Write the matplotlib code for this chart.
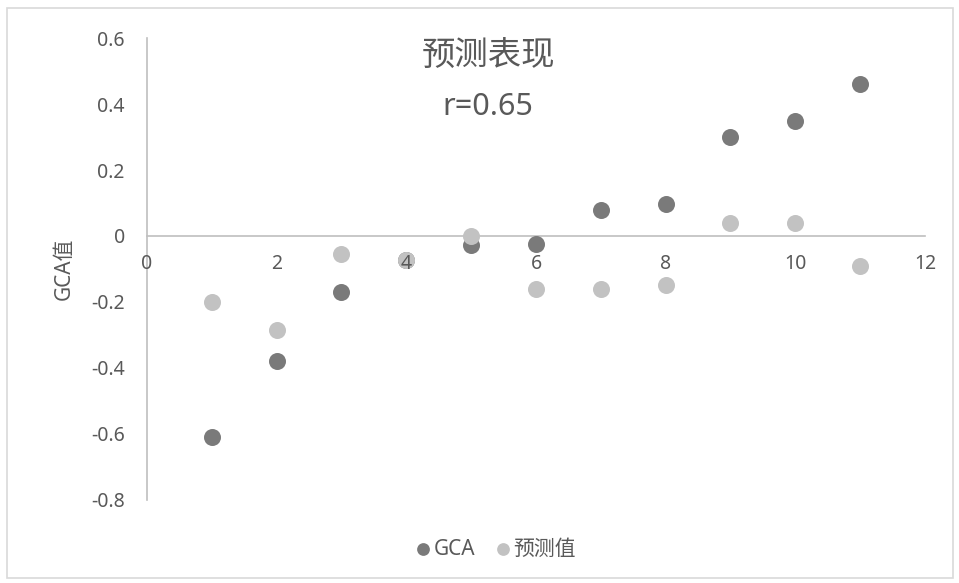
import matplotlib
matplotlib.use('Agg')
import matplotlib.pyplot as plt
from matplotlib.patches import Rectangle

plt.rcParams['font.family'] = ['Noto Sans', 'Noto Sans CJK SC', 'DejaVu Sans']

# 数据
x_vals = [1, 2, 3, 4, 5, 6, 7, 8, 9, 10, 11]
gca = [-0.61, -0.38, -0.17, -0.073, -0.027, -0.024, 0.079, 0.097, 0.30, 0.35, 0.46]
pred = [-0.20, -0.285, -0.055, -0.073, 0.0, -0.16, -0.16, -0.15, 0.04, 0.04, -0.09]
x_ticks = [0, 2, 4, 6, 8, 10, 12]
y_ticks = [-0.8, -0.6, -0.4, -0.2, 0, 0.2, 0.4, 0.6]
y_labels = ['-0.8', '-0.6', '-0.4', '-0.2', '0', '0.2', '0.4', '0.6']

text_color = '#595959'
axis_color = '#bfbfbf'

fig = plt.figure(figsize=(9.59, 5.83), dpi=100)
ax = fig.add_axes([0.1533, 0.1424, 0.8112, 0.7924])

ax.scatter(x_vals, gca, s=150, color='#7a7a7a', label='GCA', zorder=3, linewidths=0)
ax.scatter(x_vals, pred, s=150, color='#c2c2c2', label='预测值', zorder=3, linewidths=0)

ax.set_xlim(0, 12)
ax.set_ylim(-0.8, 0.6)
ax.set_xticks(x_ticks)
ax.set_xticklabels([])
ax.set_yticks(y_ticks)
ax.set_yticklabels(y_labels)

# x轴刻度文字画在点的上面
for t in x_ticks:
    ax.text(t, -0.055, str(t), ha='center', va='top', fontsize=14,
            color=text_color, zorder=4, clip_on=False)

# 坐标轴样式
ax.spines['top'].set_visible(False)
ax.spines['right'].set_visible(False)
ax.spines['bottom'].set_position(('data', 0))
ax.spines['bottom'].set_color(axis_color)
ax.spines['left'].set_color(axis_color)
ax.spines['bottom'].set_linewidth(1.2)
ax.spines['left'].set_linewidth(1.2)
ax.tick_params(axis='both', length=0, colors=text_color, labelsize=14)
ax.tick_params(axis='y', pad=16)

ax.set_ylabel('GCA值', fontsize=15, color=text_color, labelpad=12)

# 标题
fig.text(0.509, 0.902, '预测表现', ha='center', va='center', fontsize=24, color=text_color)
fig.text(0.509, 0.816, 'r=0.65', ha='center', va='center', fontsize=22, color=text_color)

leg = fig.legend(loc='center', bbox_to_anchor=(0.51, 0.058), ncol=2, frameon=False,
                 fontsize=15, handletextpad=-0.5, columnspacing=0.3, markerscale=0.75)
for t in leg.get_texts():
    t.set_color(text_color)

# 外框
fig.patches.append(Rectangle((0.0073, 0.008), 0.986, 0.978, transform=fig.transFigure,
                             fill=False, edgecolor='#d9d9d9', linewidth=1.2))

fig.savefig('out.png', dpi=100)
